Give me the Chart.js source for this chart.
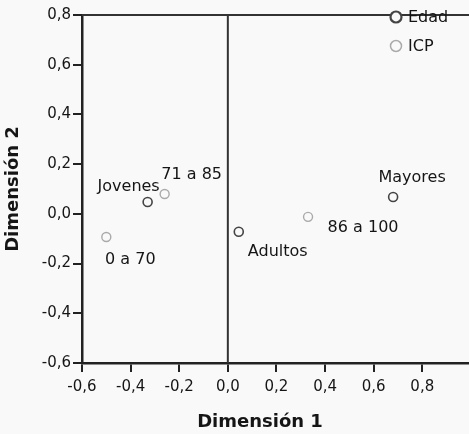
<!DOCTYPE html>
<html>
<head>
<meta charset="utf-8">
<title>Dimensión 1 / Dimensión 2</title>
<script src="https://cdn.jsdelivr.net/npm/chart.js@4/dist/chart.umd.min.js"></script>
<style>
  html, body { margin: 0; padding: 0; overflow: hidden; background: #f9f9f9; }
  #wrap { width: 477px; height: 434px; }
</style>
</head>
<body>
<div id="wrap"><canvas id="chart" width="477" height="434"></canvas></div>
<script>
// Category points (Dimensión 1, Dimensión 2)
const edadNames = ["Jovenes", "Adultos", "Mayores"];
const edadDim1 = [-0.33, 0.045, 0.68];
const edadDim2 = [0.048, -0.072, 0.068];

const icpNames = ["0 a 70", "71 a 85", "86 a 100"];
const icpDim1 = [-0.50, -0.26, 0.33];
const icpDim2 = [-0.093, 0.08, -0.012];

const xTicks = [-0.6, -0.4, -0.2, 0.0, 0.2, 0.4, 0.6, 0.8];
const yTicks = [-0.6, -0.4, -0.2, 0.0, 0.2, 0.4, 0.6, 0.8];

// where each category name sits relative to its marker
const labelOffsets = {
  "Jovenes": [-19, -15],
  "Adultos": [39, 20],
  "Mayores": [19, -19],
  "0 a 70": [24, 23],
  "71 a 85": [27, -19],
  "86 a 100": [55, 11]
};

const FONT = "'DejaVu Sans', sans-serif";
const INK = "#151515";

function pts(xs, ys) {
  return xs.map((x, i) => ({ x: x, y: ys[i] }));
}
function comma(v) {
  return Number(v).toFixed(1).replace(".", ",");
}

// background, frame line, origin line, names, legend, x title
const decor = {
  id: "decor",
  beforeDraw(chart) {
    const c = chart.ctx;
    c.save();
    c.fillStyle = "#f9f9f9";
    c.fillRect(0, 0, chart.width, chart.height);
    c.restore();
  },
  beforeDatasetsDraw(chart) {
    const c = chart.ctx, a = chart.chartArea, xs = chart.scales.x;
    c.save();
    c.strokeStyle = "#333";
    c.lineWidth = 2;
    c.beginPath();
    c.moveTo(a.left, a.top);
    c.lineTo(a.right, a.top);
    c.stroke();
    const x0 = xs.getPixelForValue(0);
    c.beginPath();
    c.moveTo(x0, a.top);
    c.lineTo(x0, a.bottom);
    c.stroke();
    c.restore();
  },
  afterDatasetsDraw(chart) {
    const c = chart.ctx, a = chart.chartArea;
    c.save();
    c.font = "16px " + FONT;
    c.fillStyle = INK;
    c.textAlign = "center";
    c.textBaseline = "middle";
    chart.data.datasets.forEach((ds, di) => {
      chart.getDatasetMeta(di).data.forEach((el, i) => {
        const name = ds.names[i];
        const off = labelOffsets[name];
        c.fillText(name, el.x + off[0], el.y + off[1]);
      });
    });

    // legend in the upper right of the plot
    chart.data.datasets.forEach((ds, di) => {
      const lx = a.left + 314, ly = a.top + 2 + di * 29;
      c.beginPath();
      c.arc(lx, ly, 5.5, 0, Math.PI * 2);
      c.fillStyle = "#f9f9f9";
      c.fill();
      c.lineWidth = di === 0 ? 2.2 : 1.5;
      c.strokeStyle = ds.borderColor;
      c.stroke();
      c.fillStyle = INK;
      c.textAlign = "left";
      c.fillText(ds.label, lx + 12, ly + 1);
    });

    // x axis title
    c.font = "bold 18px " + FONT;
    c.textAlign = "center";
    c.fillText("Dimensión 1", a.left + 178, a.bottom + 59);
    c.restore();
  }
};

new Chart(document.getElementById("chart"), {
  type: "scatter",
  data: {
    datasets: [
      {
        label: "Edad",
        names: edadNames,
        data: pts(edadDim1, edadDim2),
        pointRadius: 4.5,
        pointBorderWidth: 1.6,
        borderColor: "#444",
        backgroundColor: "#f9f9f9"
      },
      {
        label: "ICP",
        names: icpNames,
        data: pts(icpDim1, icpDim2),
        pointRadius: 4.5,
        pointBorderWidth: 1.4,
        borderColor: "#aaa",
        backgroundColor: "#f9f9f9"
      }
    ]
  },
  options: {
    responsive: false,
    animation: false,
    layout: { padding: { top: 15, left: 0, right: 0, bottom: 0 } },
    plugins: { legend: { display: false }, tooltip: { enabled: false } },
    scales: {
      x: {
        min: -0.6,
        max: 1.0,
        afterBuildTicks: s => { s.ticks = xTicks.map(v => ({ value: v })); },
        afterFit: s => { s.height = 71; },
        border: { display: true, color: "#222", width: 2.5 },
        grid: { drawOnChartArea: false, drawTicks: true, tickLength: 9, color: "#222", lineWidth: 2 },
        ticks: {
          padding: 6,
          maxRotation: 0,
          color: INK,
          font: { family: FONT, size: 15 },
          callback: v => comma(v)
        }
      },
      y: {
        min: -0.6,
        max: 0.8,
        afterBuildTicks: s => { s.ticks = yTicks.map(v => ({ value: v })); },
        afterFit: s => { s.width = 82; },
        border: { display: true, color: "#222", width: 2.5 },
        grid: { drawOnChartArea: false, drawTicks: true, tickLength: 9, color: "#222", lineWidth: 2 },
        ticks: {
          padding: 2,
          color: INK,
          font: { family: FONT, size: 15 },
          callback: v => comma(v)
        },
        title: {
          display: true,
          text: "Dimensión 2",
          color: INK,
          font: { family: FONT, size: 18, weight: "bold" },
          padding: { top: 3, bottom: 0 }
        }
      }
    }
  },
  plugins: [decor]
});
</script>
</body>
</html>
